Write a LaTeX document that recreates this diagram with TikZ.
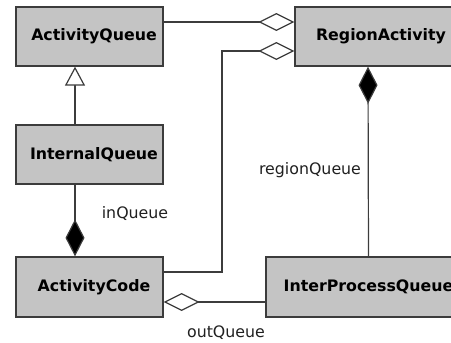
\documentclass[tikz,border=0pt]{standalone}
\usepackage{fontspec}
\setmainfont{DejaVu Sans}
\usetikzlibrary{arrows.meta}
\definecolor{linec}{HTML}{3C3C3C}
\definecolor{boxc}{HTML}{C4C4C4}
\definecolor{labc}{HTML}{202020}
\begin{document}
\begin{tikzpicture}[x=1pt,y=-1pt,
  cls/.style={draw=linec, line width=1.3pt, fill=boxc,
    font=\fontsize{15.8}{18}\selectfont\bfseries, text=black,
    inner sep=0pt, minimum width=147pt, minimum height=59pt},
  conn/.style={draw=linec, line width=1.2pt},
  odia/.tip={Diamond[open, length=36pt, width=18pt, fill=white]},
  fdia/.tip={Diamond[length=37pt, width=19pt, fill=black]},
  otri/.tip={Triangle[open, length=19pt, width=20pt, fill=white]},
  lbl/.style={font=\fontsize{15.8}{18}\selectfont, text=labc, inner sep=0pt}]
\useasboundingbox (0,0) rectangle (451,343);
\clip (0,0) rectangle (451,343);

\node[cls] (aq) at (89.5,36.5) {\hspace*{9pt}ActivityQueue};
\node[cls, minimum width=172pt] (ra) at (381,36.5) {RegionActivity};
\node[cls] (iq) at (89.5,154.5) {\hspace*{9pt}InternalQueue};
\node[cls, minimum height=60pt] (ac) at (89.5,287) {\hspace*{9pt}ActivityCode};
\node[cls, minimum width=205pt, minimum height=60pt] (ipq) at (368.5,287) {InterProcessQueue};

% ActivityQueue -- RegionActivity (aggregation)
\draw[conn, -{odia}] ([yshift=14.5pt]aq.east) -- ([yshift=14.5pt]ra.west);
% ActivityCode -> RegionActivity (aggregation)
\coordinate (bend) at (222,51);
\draw[conn, -{odia}] ([yshift=15pt]ac.east) -| (bend) -- ([yshift=-14.5pt]ra.west);
% Inheritance
\draw[conn, -{otri}] ([xshift=-14.5pt]iq.north) -- ([xshift=-14.5pt]aq.south);
% inQueue composition
\draw[conn, -{fdia}] ([xshift=-14.5pt]iq.south) -- ([xshift=-14.5pt]ac.north);
% regionQueue composition
\draw[conn, {fdia}-] ([xshift=-13pt]ra.south) -- (ipq.north);
% outQueue aggregation
\draw[conn, -{odia}] ([yshift=-15pt]ipq.west) -- ([yshift=-15pt]ac.east);

\node[lbl] (l1) at (135,214) {inQueue};
\node[lbl] (l2) at (310,170) {regionQueue};
\node[lbl] (l3) at (226,333) {outQueue};
\end{tikzpicture}
\end{document}
